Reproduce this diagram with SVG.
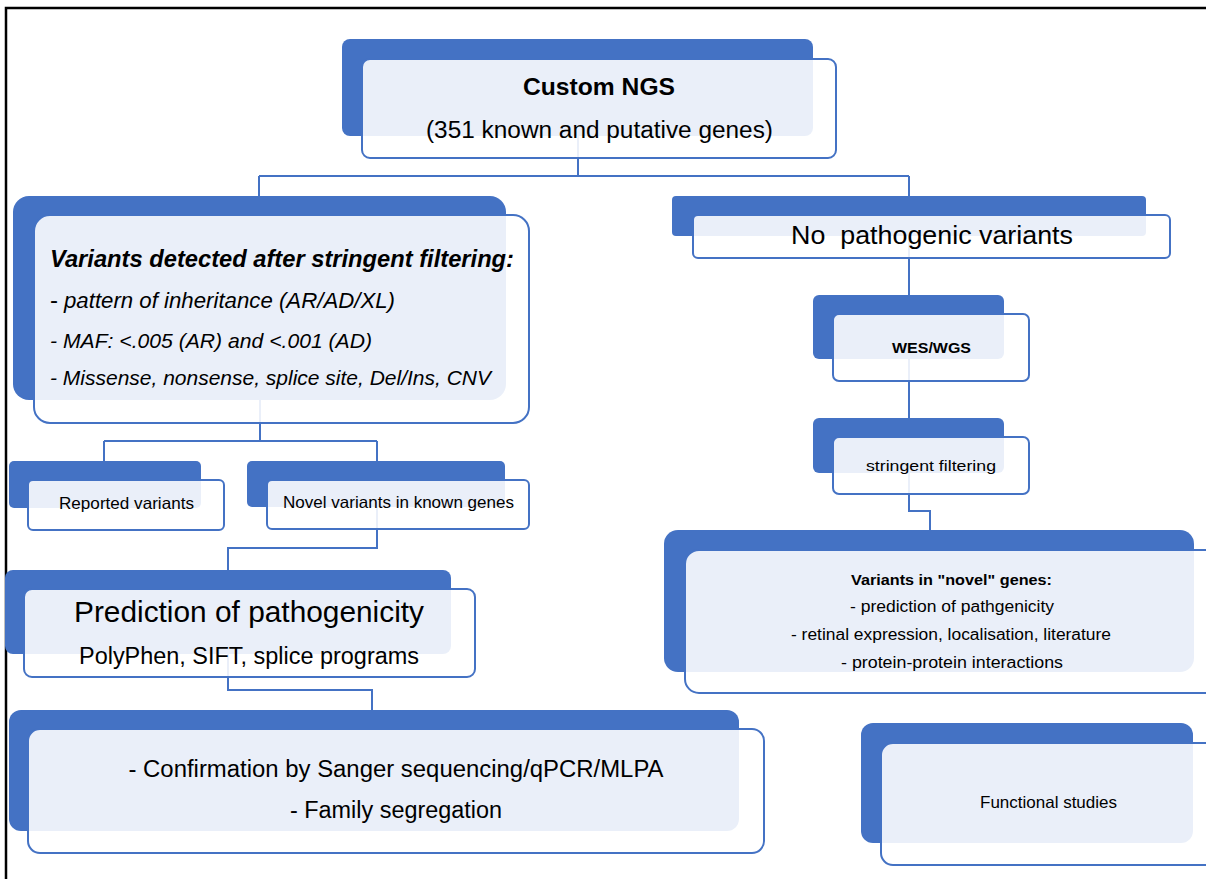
<svg xmlns="http://www.w3.org/2000/svg" width="1206" height="879" viewBox="0 0 1206 879">
<style>
.bk{fill:#4472C4}
.fr{fill:#ffffff;fill-opacity:0.89;stroke:#4472C4;stroke-width:2}
.cn{fill:none;stroke:#4472C4;stroke-width:2}
text{font-family:"Liberation Sans",Arial,sans-serif;fill:#000;text-anchor:middle}
.l{text-anchor:start}
.b{font-weight:bold}
.i{font-style:italic}
</style>
<rect x="0" y="0" width="1206" height="879" fill="#ffffff"/>
<path d="M6 879 V8 H1206" fill="none" stroke="#000" stroke-width="2.5"/>
<g id="connectors">
<path class="cn" d="M578 100 V176 M259 176 H909 M259 176 V300"/>
<path class="cn" d="M909 176 V230 V300 M909 340 V425 M909 450 V511 H930 V545"/>
<path class="cn" d="M260 300 V441 M104 441 H377 M104 441 V470 M377 441 V470"/>
<path class="cn" d="M377 490 V548 H228 V600"/>
<path class="cn" d="M228 620 V690 H372 V725"/>
</g>
<g id="n1">
<rect class="bk" x="342" y="39" width="471" height="97" rx="8"/>
<rect class="fr" x="362" y="59" width="474" height="99" rx="8"/>
<text class="b" x="599" y="95" font-size="24.5" textLength="152" lengthAdjust="spacingAndGlyphs">Custom NGS</text>
<text x="599.5" y="138" font-size="23" textLength="347" lengthAdjust="spacingAndGlyphs">(351 known and putative genes)</text>
</g>
<g id="n2">
<rect class="bk" x="13" y="196" width="493" height="204" rx="16"/>
<rect class="fr" x="34" y="215" width="495" height="208" rx="16"/>
<text class="l b i" x="50" y="267" font-size="23" textLength="464" lengthAdjust="spacingAndGlyphs">Variants detected after stringent filtering:</text>
<text class="l" x="50" y="308" font-size="24">-</text>
<text class="l i" x="64" y="308" font-size="21.5" textLength="331" lengthAdjust="spacingAndGlyphs">pattern of inheritance (AR/AD/XL)</text>
<text class="l i" x="50" y="348" font-size="21" textLength="322" lengthAdjust="spacingAndGlyphs">- MAF: &lt;.005 (AR) and &lt;.001 (AD)</text>
<text class="l i" x="50" y="385" font-size="21" textLength="441" lengthAdjust="spacingAndGlyphs">- Missense, nonsense, splice site, Del/Ins, CNV</text>
</g>
<g id="n3">
<rect class="bk" x="672" y="196" width="474" height="40" rx="4"/>
<rect class="fr" x="693" y="215" width="477" height="43" rx="5"/>
<text x="932" y="244" font-size="26" textLength="282" lengthAdjust="spacingAndGlyphs" xml:space="preserve">No  pathogenic variants</text>
</g>
<g id="n4">
<rect class="bk" x="813" y="295" width="191" height="64" rx="6"/>
<rect class="fr" x="833" y="314" width="196" height="67" rx="6"/>
<text class="b" x="931.5" y="353" font-size="15.5" textLength="79" lengthAdjust="spacingAndGlyphs">WES/WGS</text>
</g>
<g id="n5">
<rect class="bk" x="813" y="418" width="191" height="55" rx="6"/>
<rect class="fr" x="833" y="437" width="196" height="57" rx="6"/>
<text x="931" y="471" font-size="15.5" textLength="130" lengthAdjust="spacingAndGlyphs">stringent filtering</text>
</g>
<g id="n6">
<rect class="bk" x="664" y="530" width="530" height="142" rx="14"/>
<rect class="fr" x="685" y="550" width="540" height="143" rx="14"/>
<text class="b" x="951.5" y="585" font-size="15.5" textLength="201" lengthAdjust="spacingAndGlyphs">Variants in "novel" genes:</text>
<text x="952" y="612" font-size="16" textLength="204" lengthAdjust="spacingAndGlyphs">- prediction of pathgenicity</text>
<text x="951" y="640" font-size="16" textLength="320" lengthAdjust="spacingAndGlyphs">- retinal expression, localisation, literature</text>
<text x="952" y="668" font-size="16" textLength="222" lengthAdjust="spacingAndGlyphs">- protein-protein interactions</text>
</g>
<g id="n7">
<rect class="bk" x="9" y="461" width="192" height="47" rx="5"/>
<rect class="fr" x="28" y="480" width="196" height="50" rx="5"/>
<text x="126.5" y="509" font-size="16.5" textLength="135" lengthAdjust="spacingAndGlyphs">Reported variants</text>
</g>
<g id="n8">
<rect class="bk" x="247" y="461" width="258" height="46" rx="5"/>
<rect class="fr" x="267" y="480" width="262" height="49" rx="5"/>
<text x="398.5" y="508" font-size="16.5" textLength="231" lengthAdjust="spacingAndGlyphs">Novel variants in known genes</text>
</g>
<g id="n9">
<rect class="bk" x="5" y="570" width="446" height="84" rx="8"/>
<rect class="fr" x="24" y="589" width="451" height="88" rx="8"/>
<text x="249" y="622" font-size="29.5" textLength="350" lengthAdjust="spacingAndGlyphs">Prediction of pathogenicity</text>
<text x="249" y="664" font-size="23" textLength="340" lengthAdjust="spacingAndGlyphs">PolyPhen, SIFT, splice programs</text>
</g>
<g id="n10">
<rect class="bk" x="9" y="710" width="730" height="121" rx="12"/>
<rect class="fr" x="28" y="729" width="736" height="124" rx="12"/>
<text x="396" y="777" font-size="23" textLength="535" lengthAdjust="spacingAndGlyphs">- Confirmation by Sanger sequencing/qPCR/MLPA</text>
<text x="396" y="818" font-size="23" textLength="212" lengthAdjust="spacingAndGlyphs">- Family segregation</text>
</g>
<g id="n11">
<rect class="bk" x="861" y="723" width="332" height="120" rx="12"/>
<rect class="fr" x="881" y="743" width="340" height="122" rx="12"/>
<text x="1048.5" y="808" font-size="16.5" textLength="137" lengthAdjust="spacingAndGlyphs">Functional studies</text>
</g>
</svg>
